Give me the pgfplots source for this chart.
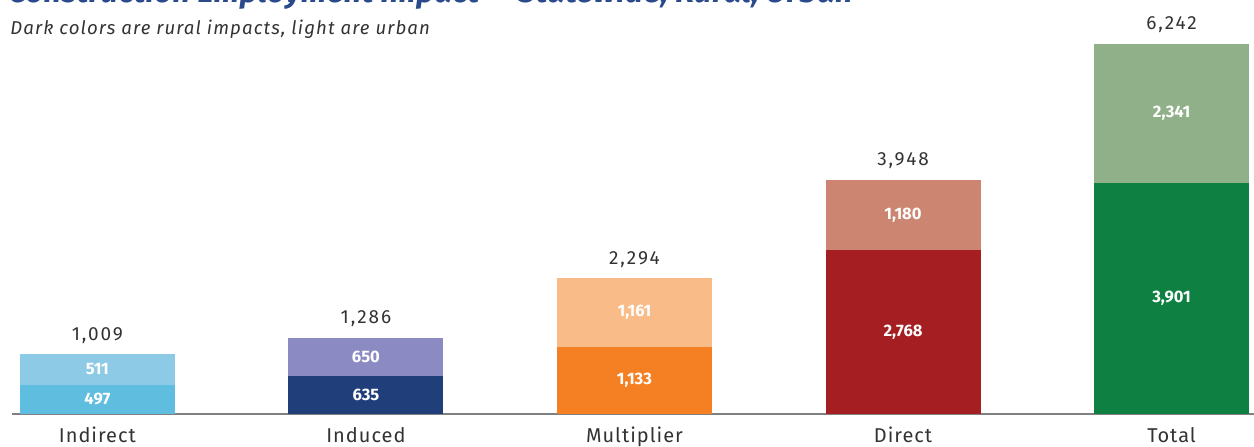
\documentclass[border=0pt]{standalone}
\usepackage{pgfplots}
\pgfplotsset{compat=1.18}
\usepackage{pgfplotstable}
\usepackage{fontspec}
\setmainfont{Fira Sans}
\usetikzlibrary{calc}

\definecolor{indR}{HTML}{5FBDE0}
\definecolor{indU}{HTML}{8DCAE6}
\definecolor{dueR}{HTML}{1F3E7A}
\definecolor{dueU}{HTML}{8B8AC3}
\definecolor{mulR}{HTML}{F58023}
\definecolor{mulU}{HTML}{F9BB87}
\definecolor{dirR}{HTML}{A51E22}
\definecolor{dirU}{HTML}{CC8571}
\definecolor{totR}{HTML}{0E8042}
\definecolor{totU}{HTML}{90B08A}
\definecolor{titleblue}{HTML}{2A4A8C}
\definecolor{txt}{HTML}{333333}

% rural / urban jobs per impact type, total as printed
\pgfplotstableread{
x rural urban total rlab ulab tlab
0 497 511 1009 497 511 1,009
1 635 650 1286 635 650 1,286
2 1133 1161 2294 1,133 1,161 2,294
3 2768 1180 3948 2,768 1,180 3,948
4 3901 2341 6242 3,901 2,341 6,242
}\impact

\begin{document}
\begin{tikzpicture}
\begin{axis}[
    width=621pt, height=207pt, scale only axis,
    xmin=-0.318, xmax=4.307, ymin=0, ymax=6984,
    axis x line*=bottom, axis y line=none,
    x axis line style={draw=black!50, line width=0.75pt, -},
    xtick={0,...,4}, major tick length=0pt,
    xticklabels={Indirect, Induced, Multiplier, Direct, Total},
    xticklabel style={anchor=base, yshift=-14.5pt, text=txt,
        font=\fontsize{10}{12}\selectfont\addfontfeature{LetterSpace=5}},
    ytick=\empty,
    clip=false,
    bar/.style={ybar, bar shift=0pt, bar width=77.5pt, draw=none, fill=#1},
    lab/.style={draw=none, nodes near coords, point meta=explicit symbolic,
        every node near coord/.style={anchor=center, text=white,
        font=\fontsize{8.3}{10}\selectfont\bfseries}},
]
\coordinate (bl) at (rel axis cs:0,0);
\coordinate (tr) at (rel axis cs:1,1);
% light (urban) bars drawn to the stacked height, dark (rural) bars over them
\addplot[bar=indU] coordinates {(0,1008)};
\addplot[bar=indR] coordinates {(0,497)};
\addplot[bar=dueU] coordinates {(1,1285)};
\addplot[bar=dueR] coordinates {(1,635)};
\addplot[bar=mulU] coordinates {(2,2294)};
\addplot[bar=mulR] coordinates {(2,1133)};
\addplot[bar=dirU] coordinates {(3,3948)};
\addplot[bar=dirR] coordinates {(3,2768)};
\addplot[bar=totU] coordinates {(4,6242)};
\addplot[bar=totR] coordinates {(4,3901)};
% segment labels
\addplot[lab] table[x=x, y expr=\thisrow{rural}/2, meta=rlab] {\impact};
\addplot[lab] table[x=x, y expr=\thisrow{rural}+\thisrow{urban}/2, meta=ulab] {\impact};
\addplot[draw=none, nodes near coords, point meta=explicit symbolic,
    every node near coord/.style={anchor=base, yshift=7pt, text=txt,
    font=\fontsize{9.5}{11}\selectfont\addfontfeature{LetterSpace=10}}]
    table[x=x, y=total, meta=tlab] {\impact};
\end{axis}
\node[anchor=base west, text=titleblue, inner sep=0pt,
    font=\fontsize{15.5}{18}\selectfont\bfseries\itshape\addfontfeature{LetterSpace=1}]
    at ($(tr -| bl)+(-2pt,-1.5pt)$)
    {Construction Employment Impact --- Statewide, Rural, Urban};
\node[anchor=base west, text=txt, inner sep=0pt,
    font=\fontsize{9.3}{11}\selectfont\itshape\addfontfeature{LetterSpace=6}]
    at ($(tr -| bl)+(-1pt,-17.5pt)$)
    {Dark colors are rural impacts, light are urban};
\pgfresetboundingbox
\path[use as bounding box] ($(bl)+(-6pt,-16.5pt)$) rectangle (tr);
\end{tikzpicture}
\end{document}
